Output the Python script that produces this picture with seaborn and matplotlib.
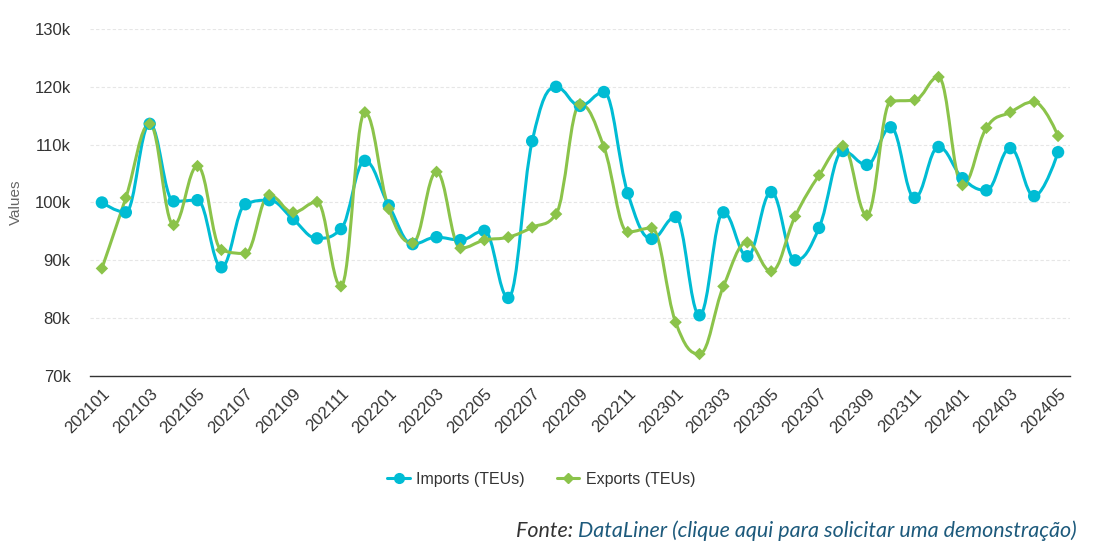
import numpy as np
import pandas as pd
import seaborn as sns
import matplotlib
matplotlib.use('Agg')
import matplotlib.pyplot as plt
from matplotlib.path import Path
from matplotlib.patches import PathPatch
from matplotlib.lines import Line2D
from matplotlib.ticker import FuncFormatter

# Monthly series (thousand TEUs)
months = ['202101', '202102', '202103', '202104', '202105', '202106', '202107', '202108',
          '202109', '202110', '202111', '202112', '202201', '202202', '202203', '202204',
          '202205', '202206', '202207', '202208', '202209', '202210', '202211', '202212',
          '202301', '202302', '202303', '202304', '202305', '202306', '202307', '202308',
          '202309', '202310', '202311', '202312', '202401', '202402', '202403', '202404',
          '202405']
imports_teu = [100.0, 98.3, 113.6, 100.2, 100.4, 88.8, 99.7, 100.4, 97.1, 93.8, 95.4, 107.2,
               99.5, 92.8, 94.0, 93.5, 95.1, 83.5, 110.6, 120.0, 116.7, 119.1, 101.6, 93.7,
               97.5, 80.5, 98.3, 90.7, 101.8, 90.0, 95.6, 108.9, 106.5, 113.0, 100.8, 109.6,
               104.2, 102.1, 109.4, 101.1, 108.7]
exports_teu = [88.6, 100.8, 113.6, 96.1, 106.3, 91.8, 91.2, 101.3, 98.3, 100.1, 85.5, 115.6,
               98.9, 93.0, 105.3, 92.1, 93.5, 94.0, 95.7, 98.0, 117.0, 109.6, 94.9, 95.6,
               79.3, 73.8, 85.5, 93.1, 88.1, 97.6, 104.7, 109.8, 97.8, 117.5, 117.7, 121.7,
               103.0, 112.9, 115.6, 117.4, 111.5]
series_names = ['Imports (TEUs)', 'Exports (TEUs)']
series_colors = ['#00BCD4', '#8BC34A']

df = pd.DataFrame({'month': months, 'Imports (TEUs)': imports_teu, 'Exports (TEUs)': exports_teu})
df['idx'] = np.arange(len(df))
long = df.melt(id_vars=['month', 'idx'], var_name='series', value_name='value')


def spline_path(xs, ys, smoothing=1.5):
    # bezier spline through the points (same idea as highcharts 'spline')
    denom = smoothing + 1
    n = len(xs)
    left = [(xs[0], ys[0])] * n
    right = [(xs[0], ys[0])] * n
    for i in range(n):
        x, y = xs[i], ys[i]
        if i == 0 or i == n - 1:
            left[i] = (x, y)
            right[i] = (x, y)
            continue
        lx, ly = xs[i - 1], ys[i - 1]
        nx, ny = xs[i + 1], ys[i + 1]
        lcx = (smoothing * x + lx) / denom
        lcy = (smoothing * y + ly) / denom
        rcx = (smoothing * x + nx) / denom
        rcy = (smoothing * y + ny) / denom
        corr = ((rcy - lcy) * (rcx - x)) / (rcx - lcx) + y - rcy
        lcy += corr
        rcy += corr
        if lcy > ly and lcy > y:
            lcy = max(ly, y)
            rcy = 2 * y - lcy
        elif lcy < ly and lcy < y:
            lcy = min(ly, y)
            rcy = 2 * y - lcy
        if rcy > ny and rcy > y:
            rcy = max(ny, y)
            lcy = 2 * y - rcy
        elif rcy < ny and rcy < y:
            rcy = min(ny, y)
            lcy = 2 * y - rcy
        left[i] = (lcx, lcy)
        right[i] = (rcx, rcy)
    verts = [(xs[0], ys[0])]
    codes = [Path.MOVETO]
    for i in range(1, n):
        verts += [right[i - 1], left[i], (xs[i], ys[i])]
        codes += [Path.CURVE4] * 3
    return Path(verts, codes)


sns.set_theme(style='white')
plt.rcParams['font.family'] = ['Liberation Sans', 'DejaVu Sans']

fig = plt.figure(figsize=(11.16, 5.49), dpi=100)
ax = fig.add_axes([0.0806, 0.3151, 0.8782, 0.6321])

for name, col in zip(series_names, series_colors):
    sub = long[long['series'] == name]
    p = spline_path(sub['idx'].to_numpy(float), sub['value'].to_numpy(float))
    ax.add_patch(PathPatch(p, facecolor='none', edgecolor=col, lw=2.2, zorder=3,
                           capstyle='round', joinstyle='round'))

sns.scatterplot(data=long[long['series'] == 'Imports (TEUs)'], x='idx', y='value',
                color=series_colors[0], marker='o', s=80, edgecolor='none', zorder=4,
                ax=ax, legend=False)
sns.scatterplot(data=long[long['series'] == 'Exports (TEUs)'], x='idx', y='value',
                color=series_colors[1], marker='D', s=40, edgecolor='none', zorder=4,
                ax=ax, legend=False)

ax.set_xlim(-0.5, len(months) - 0.5)
ax.set_ylim(70, 130)
ax.set_yticks(np.arange(70, 131, 10))
ax.yaxis.set_major_formatter(FuncFormatter(lambda v, p: f'{int(v)}k'))
ax.set_xticks(np.arange(0, len(months), 2))
ax.set_xticklabels(months[::2], rotation=45, ha='right', rotation_mode='anchor')
ax.tick_params(axis='x', labelsize=12, labelcolor='#333333', length=0, pad=7)
ax.tick_params(axis='y', labelsize=12, labelcolor='#333333', length=0, pad=14)
ax.grid(axis='y', color='#e6e6e6', linestyle=(0, (3, 2)), lw=0.8)
ax.grid(axis='x', visible=False)
for s in ['top', 'right', 'left']:
    ax.spines[s].set_visible(False)
ax.spines['bottom'].set_color('#333333')
ax.spines['bottom'].set_linewidth(1.0)
ax.set_xlabel('')
ax.set_ylabel('Values', fontsize=11, color='#666666', labelpad=8)

handles = [
    Line2D([], [], color=series_colors[0], marker='o', markersize=7, lw=2.2),
    Line2D([], [], color=series_colors[1], marker='D', markersize=5, lw=2.2),
]
fig.legend(handles, series_names, loc='center', bbox_to_anchor=(0.485, 0.127), ncol=2,
           frameon=False, fontsize=11.5, handlelength=1.4, handletextpad=0.4,
           columnspacing=2.0, labelcolor='#333333')

# source line: "Fonte:" dark, the rest in link colour
src = fig.text(0.965, 0.022, 'DataLiner (clique aqui para solicitar uma demonstração)',
               fontsize=15.5, style='italic', color='#1d5a7c', family=['Lato', 'DejaVu Sans'],
               ha='right', va='baseline')
ax.annotate('Fonte: ', xy=(0, 0), xycoords=src, ha='right', va='bottom',
            fontsize=15.5, style='italic', color='#333333', family=['Lato', 'DejaVu Sans'],
            annotation_clip=False)

fig.savefig('out.png', dpi=100, facecolor='white')
